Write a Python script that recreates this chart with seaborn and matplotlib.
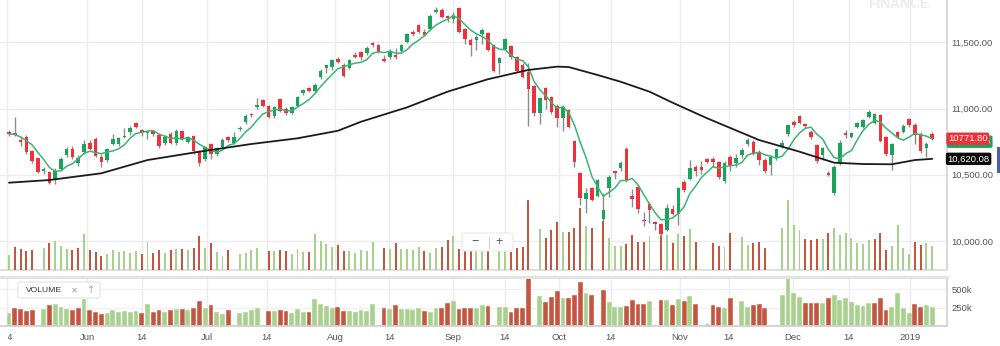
import numpy as np
import pandas as pd
import matplotlib
matplotlib.use("Agg")
import matplotlib.pyplot as plt
from matplotlib.patches import FancyBboxPatch, Rectangle
from matplotlib.lines import Line2D
from matplotlib.transforms import Bbox
import seaborn as sns

# Daily OHLC prices
open_ = [10825, 10817, 10762, 10783, 10680, 10625, 10528, 10523, 10460, 10541,
         10650, 10694, 10585, 10674, 10740, 10770, 10636, 10611, 10731, 10735,
         10783, 10820, 10893, 10838, 10813, 10832, 10800, 10737, 10811, 10740,
         10830, 10750, 10791, 10674, 10617, 10730, 10660, 10712, 10787, 10740,
         10843, 10897, 10960, 11009, 11064, 11018, 10943, 11069, 11000, 10968,
         11018, 11115, 11152, 11135, 11236, 11304, 11316, 11371, 11332, 11304,
         11404, 11424, 11417, 11497, 11480, 11371, 11387, 11404, 11437, 11505,
         11580, 11631, 11575, 11598, 11727, 11747, 11700, 11676, 11755, 11598,
         11517, 11517, 11565, 11572, 11480, 11341, 11447, 11470, 11390, 11330,
         11276, 11170, 10963, 11152, 11087, 11018, 10932, 10988, 10755, 10515,
         10314, 10397, 10336, 10168, 10397, 10528, 10548, 10692, 10340, 10410,
         10161, 10282, 10140, 10125, 10086, 10244, 10206, 10447, 10465, 10560,
         10555, 10617, 10617, 10598, 10455, 10636, 10586, 10649, 10735, 10747,
         10674, 10611, 10573, 10624, 10715, 10807, 10899, 10943, 10885, 10825,
         10724, 10649, 10515, 10359, 10598, 10817, 10787, 10858, 10858, 10936,
         10893, 10949, 10787, 10649, 10825, 10825, 10917, 10874, 10811, 10705,
         10811]
high = [10838, 10938, 10790, 10800, 10690, 10630, 10560, 10530, 10548, 10632,
        10712, 10717, 10649, 10765, 10765, 10783, 10655, 10700, 10811, 10785,
        10850, 10868, 10900, 10845, 10830, 10840, 10810, 10800, 10820, 10845,
        10840, 10790, 10800, 10687, 10720, 10740, 10712, 10780, 10795, 10820,
        10868, 10960, 10965, 11082, 11075, 11030, 11020, 11075, 11010, 11020,
        11095, 11150, 11160, 11190, 11295, 11330, 11375, 11392, 11340, 11375,
        11430, 11437, 11470, 11505, 11490, 11404, 11450, 11455, 11490, 11570,
        11590, 11640, 11600, 11710, 11765, 11755, 11705, 11732, 11765, 11606,
        11530, 11555, 11606, 11580, 11487, 11387, 11530, 11480, 11395, 11340,
        11345, 11178, 11090, 11160, 11095, 11034, 11030, 11000, 10762, 10523,
        10397, 10405, 10465, 10359, 10497, 10530, 10605, 10712, 10390, 10420,
        10218, 10294, 10150, 10135, 10282, 10275, 10410, 10462, 10610, 10573,
        10600, 10625, 10632, 10605, 10600, 10650, 10660, 10700, 10775, 10760,
        10687, 10625, 10649, 10705, 10762, 10885, 10912, 10950, 10890, 10840,
        10730, 10712, 10525, 10573, 10760, 10840, 10825, 10900, 10920, 10990,
        10965, 10962, 10795, 10740, 10830, 10880, 10925, 10893, 10825, 10747,
        10825]
low = [10790, 10790, 10715, 10660, 10590, 10510, 10505, 10430, 10430, 10530,
       10636, 10620, 10568, 10660, 10687, 10634, 10560, 10598, 10724, 10720,
       10775, 10800, 10850, 10790, 10767, 10795, 10705, 10725, 10730, 10725,
       10760, 10740, 10660, 10568, 10600, 10617, 10640, 10700, 10745, 10730,
       10830, 10885, 10937, 11000, 11010, 10930, 10930, 10975, 10950, 10955,
       11010, 11105, 11125, 11120, 11220, 11270, 11290, 11340, 11235, 11295,
       11380, 11366, 11405, 11465, 11420, 11350, 11375, 11372, 11430, 11495,
       11550, 11568, 11545, 11590, 11720, 11680, 11650, 11645, 11570, 11490,
       11395, 11440, 11490, 11435, 11278, 11260, 11440, 11370, 11278, 11228,
       10870, 10940, 10883, 10995, 10960, 10860, 10832, 10850, 10560, 10271,
       10212, 10300, 10330, 10150, 10333, 10465, 10530, 10447, 10254, 10215,
       10110, 10135, 10080, 10030, 10075, 10195, 10120, 10372, 10460, 10490,
       10507, 10590, 10560, 10470, 10440, 10530, 10560, 10630, 10720, 10650,
       10573, 10510, 10497, 10610, 10705, 10790, 10858, 10880, 10855, 10770,
       10590, 10610, 10490, 10345, 10573, 10780, 10775, 10850, 10850, 10930,
       10880, 10747, 10640, 10535, 10780, 10815, 10860, 10735, 10665, 10636,
       10760]
close = [10807, 10802, 10745, 10675, 10600, 10520, 10541, 10440, 10530, 10617,
         10692, 10636, 10627, 10735, 10698, 10641, 10594, 10692, 10773, 10778,
         10791, 10850, 10863, 10820, 10825, 10805, 10719, 10787, 10740, 10832,
         10767, 10783, 10680, 10586, 10712, 10660, 10705, 10765, 10762, 10783,
         10856, 10947, 10950, 11026, 11018, 10938, 11013, 10983, 10963, 11013,
         11087, 11140, 11135, 11178, 11285, 11326, 11364, 11351, 11246, 11366,
         11387, 11391, 11454, 11482, 11429, 11356, 11437, 11387, 11480, 11563,
         11566, 11580, 11557, 11700, 11744, 11689, 11680, 11695, 11580, 11523,
         11480, 11543, 11590, 11442, 11284, 11378, 11522, 11390, 11285, 11236,
         11145, 10963, 11077, 11064, 10975, 10932, 11013, 10858, 10598, 10322,
         10359, 10309, 10457, 10236, 10483, 10515, 10590, 10460, 10314, 10239,
         10150, 10231, 10128, 10052, 10252, 10206, 10397, 10384, 10553, 10530,
         10535, 10598, 10594, 10483, 10590, 10577, 10624, 10687, 10765, 10660,
         10611, 10530, 10632, 10692, 10740, 10874, 10878, 10893, 10866, 10787,
         10606, 10700, 10495, 10560, 10740, 10802, 10817, 10893, 10912, 10974,
         10957, 10755, 10660, 10735, 10787, 10868, 10872, 10800, 10681, 10735,
         10771.80]

# Daily volume, thousands
volume_k = [173, 250, 228, 205, 218, 0, 237, 287, 300, 259,
            228, 218, 241, 364, 218, 196, 159, 182, 218, 196,
            205, 187, 209, 182, 296, 191, 218, 191, 218, 232,
            232, 218, 241, 346, 241, 287, 196, 164, 218, 0,
            182, 191, 218, 241, 0, 209, 209, 218, 209, 182,
            228, 196, 196, 369, 300, 273, 246, 264, 205, 205,
            191, 218, 205, 296, 0, 241, 228, 287, 228, 228,
            218, 250, 209, 187, 241, 250, 309, 346, 228, 250,
            241, 241, 287, 273, 0, 264, 264, 196, 241, 250,
            683, 0, 410, 332, 400, 478, 387, 387, 423, 605,
            446, 423, 0, 491, 332, 255, 255, 278, 355, 296,
            296, 346, 0, 355, 355, 287, 369, 346, 414, 296,
            0, 23, 287, 255, 250, 378, 0, 341, 264, 282,
            296, 241, 0, 0, 423, 683, 455, 400, 319, 309,
            319, 319, 378, 423, 355, 378, 332, 287, 278, 309,
            319, 378, 218, 255, 455, 241, 182, 296, 264, 287,
            259]

# 50-day moving average, sampled along the series (day index, value)
sma50_day = [0, 7, 16, 24, 33, 42, 50, 57, 61, 69, 76, 83, 90, 95, 97,
             102, 106, 111, 115, 121, 130, 137, 143, 148, 153, 157, 160]
sma50_val = [10440, 10460, 10511, 10611, 10674, 10732, 10775, 10832, 10900,
             11009, 11127, 11221, 11291, 11316, 11313, 11253, 11202, 11127,
             11044, 10926, 10762, 10674, 10591, 10581, 10579, 10611, 10620.08]

# Date axis labels and the trading-day positions they fall on
tick_day = [-0.3, 13.57, 23.0, 34.37, 44.66, 56.5, 65.9, 77.0, 85.96,
            95.37, 104.3, 116.3, 124.7, 135.9, 145.5, 156.2]
tick_labels = ["14", "Jun", "14", "Jul", "14", "Aug", "14", "Sep", "14",
               "Oct", "14", "Nov", "14", "Dec", "14", "2019"]
price_ticks = [10000, 10500, 11000, 11500]
volume_ticks_k = [250, 500]

# ---------------------------------------------------------------- styling
sns.set_theme(style="white")
plt.rcParams["font.family"] = ["Liberation Sans", "DejaVu Sans"]

UP, DOWN, WICK = "#1aa35a", "#f0313a", "#8c8c8c"
VOL_UP, VOL_DOWN = "#a9d18e", "#c4563f"
GRID = "#ececec"
LABEL = "#555555"

W, H = 1000, 346
fig = plt.figure(figsize=(W / 100, H / 100), dpi=100)
fig.patch.set_facecolor("white")


def frame(left, top, right, bottom):
    return [left / W, 1 - bottom / H, (right - left) / W, (bottom - top) / H]


main_rect = frame(0, 0, 947, 270)
ax_grid = fig.add_axes(main_rect, zorder=0)
ax_vol = fig.add_axes(main_rect, zorder=1, sharex=ax_grid)
ax = fig.add_axes(main_rect, zorder=2, sharex=ax_grid, sharey=ax_grid)
axv = fig.add_axes(frame(0, 277, 947, 326), sharex=ax_grid)

df = pd.DataFrame({"open": open_, "high": high, "low": low,
                   "close": close, "volume": volume_k})
df["day"] = np.arange(len(df))
df["sma5"] = df["close"].rolling(5, min_periods=1).mean()
rising = df["close"] >= df["open"]
vol_up = df["close"].diff().fillna(1) >= 0
vol_colors = np.where(vol_up, VOL_UP, VOL_DOWN)

xmin, xmax = -1.56, 162.56
ymin, ymax = 9781, 11819

# grid layer
ax_grid.set_xlim(xmin, xmax)
ax_grid.set_ylim(ymin, ymax)
for t in tick_day:
    ax_grid.axvline(t, color=GRID, lw=1, zorder=0)
for p in price_ticks:
    ax_grid.axhline(p, color=GRID, lw=1, zorder=0)
ax_grid.tick_params(left=False, bottom=False, right=False, top=False,
                    labelleft=False, labelbottom=False,
                    labelright=False, labeltop=False)
for s in ax_grid.spines.values():
    s.set_visible(False)
ax_grid.spines["right"].set_visible(True)
ax_grid.spines["right"].set_color("#d4d4d4")
ax_grid.spines["bottom"].set_visible(True)
ax_grid.spines["bottom"].set_color("#dcdcdc")

# volume overlay at the foot of the price panel
ax_vol.patch.set_alpha(0)
ax_vol.bar(df["day"], df["volume"], width=0.34, color=vol_colors, linewidth=0)
ax_vol.set_ylim(32, 2544)
ax_vol.axis("off")

# candlesticks
ax.patch.set_alpha(0)
ax.vlines(df["day"], df["low"], df["high"], color=WICK, lw=1, zorder=2)
body_low = np.minimum(df["open"], df["close"])
body_h = np.maximum(np.abs(df["close"] - df["open"]), 9)
ax.bar(df["day"], body_h, bottom=body_low, width=0.62,
       color=np.where(rising, UP, DOWN), linewidth=0, zorder=3)

# moving averages
sns.lineplot(x=df["day"], y=df["sma5"], ax=ax, color="#3bb377", lw=1.1,
             zorder=4)
sns.lineplot(x=sma50_day, y=sma50_val, ax=ax, color="#1b1b1b", lw=1.3,
             zorder=4)

ax.set_xlim(xmin, xmax)
ax.set_ylim(ymin, ymax)
ax.set_xlabel("")
ax.set_ylabel("")
ax.yaxis.tick_right()
ax.set_yticks(price_ticks)
ax.set_yticklabels([f"{p:,.2f}" for p in price_ticks])
ax.tick_params(axis="y", length=0, pad=3.2, labelsize=6.8, labelcolor=LABEL,
               labelleft=False, left=False)
ax.tick_params(axis="x", bottom=False, labelbottom=False)
for s in ax.spines.values():
    s.set_visible(False)

# last-value tags on the price scale
sma5_last = df["sma5"].iloc[-1]
ax.annotate(f"{sma5_last:,.2f}", xy=(1, sma5_last), xycoords=("axes fraction", "data"),
            xytext=(1.5, -3), textcoords="offset pixels", ha="left", va="center",
            fontsize=6.8, color="white", annotation_clip=False,
            bbox=dict(boxstyle="round,pad=0.18,rounding_size=0.2", fc="#1aa35a", ec="none"))
ax.annotate(f"{close[-1]:.2f}", xy=(1, close[-1]), xycoords=("axes fraction", "data"),
            xytext=(1, 0), textcoords="offset pixels", ha="left", va="center",
            fontsize=6.8, color="white", annotation_clip=False,
            bbox=dict(boxstyle="round,pad=0.18,rounding_size=0.2", fc="#ee3338", ec="none"))
ax.annotate(f"{sma50_val[-1]:,.2f}", xy=(1, sma50_val[-1]), xycoords=("axes fraction", "data"),
            xytext=(0.5, 0), textcoords="offset pixels", ha="left", va="center",
            fontsize=6.8, color="white", annotation_clip=False,
            bbox=dict(boxstyle="round,pad=0.18,rounding_size=0.2", fc="#0b0b0b", ec="none"))

# volume panel
axv.bar(df["day"], df["volume"], width=0.84, color=vol_colors,
        edgecolor="white", linewidth=0.3, zorder=2)
axv.set_xlim(xmin, xmax)
axv.set_ylim(0, 670)
for t in tick_day:
    axv.axvline(t, color=GRID, lw=1, zorder=0)
for v in volume_ticks_k:
    axv.axhline(v, color="#f1f1f1", lw=1, zorder=0)
axv.yaxis.tick_right()
axv.set_yticks(volume_ticks_k)
axv.set_yticklabels([f"{v}k" for v in volume_ticks_k])
axv.set_xticks(tick_day)
axv.set_xticklabels(tick_labels)
axv.tick_params(axis="y", length=0, pad=3.2, labelsize=6.8, labelcolor=LABEL)
axv.tick_params(axis="x", length=0, pad=5.2, labelsize=6.8, labelcolor=LABEL)
axv.set_xlabel("")
axv.set_ylabel("")
for name, s in axv.spines.items():
    s.set_visible(name in ("top", "right", "bottom"))
axv.spines["top"].set_color("#e3e3e3")
axv.spines["top"].set_linewidth(2.2)
axv.spines["right"].set_color("#d4d4d4")
axv.spines["bottom"].set_color("#cfcfcf")

# the first date label runs off the left edge of the canvas
first = axv.get_xticklabels()[0]
first.set_clip_box(Bbox.from_extents(8.3, 0, W, H))
first.set_clip_on(True)

# ---------------------------------------------------------------- overlays
def px(x, y):
    return x / W, 1 - y / H

# watermark, partly above the top edge
fig.text(*px(899, 8.5), "FINANCE", ha="center", va="baseline",
         fontsize=10, fontweight="bold", color="#ececec")

# zoom buttons
zx0, zy0, zx1, zy1 = 462, 233, 513, 251
fig.patches.append(FancyBboxPatch(
    (zx0 / W, 1 - zy1 / H), (zx1 - zx0) / W, (zy1 - zy0) / H,
    boxstyle="round,pad=0,rounding_size=0.004", transform=fig.transFigure,
    fc="white", ec="#e8e8e8", lw=0.8, zorder=10))
fig.text(*px(474.5, 242), "\u2212", ha="center", va="center", fontsize=9,
         color="#555555", zorder=11)
fig.text(*px(499.5, 242), "+", ha="center", va="center", fontsize=9,
         color="#555555", zorder=11)
fig.add_artist(Line2D([489 / W, 489 / W], [1 - 236.5 / H, 1 - 247.5 / H],
                      color="#cfcfcf", lw=0.8, zorder=11))

# volume legend chip
lx0, ly0, lx1, ly1 = 18, 282, 100, 298
fig.patches.append(FancyBboxPatch(
    (lx0 / W, 1 - ly1 / H), (lx1 - lx0) / W, (ly1 - ly0) / H,
    boxstyle="round,pad=0,rounding_size=0.004", transform=fig.transFigure,
    fc="white", ec="#e2e2e2", lw=0.8, zorder=10))
fig.text(*px(26, 290.3), "VOLUME", ha="left", va="center", fontsize=6.1,
         color="#333333", zorder=11)
fig.text(*px(74.5, 290.3), "\u2715", ha="center", va="center", fontsize=6,
         color="#9a9a9a", zorder=11, family=["DejaVu Sans"])
fig.text(*px(91, 290.3), "\u2191", ha="center", va="center", fontsize=7,
         color="#a8a8a8", zorder=11, family=["DejaVu Sans"])

# scroll marker on the right edge
fig.patches.append(Rectangle(((997) / W, 1 - 173 / H), 3 / W, 26 / H,
                             transform=fig.transFigure, fc="#4b60b3",
                             ec="none", zorder=10))

fig.savefig("out.png", dpi=100, facecolor="white")
